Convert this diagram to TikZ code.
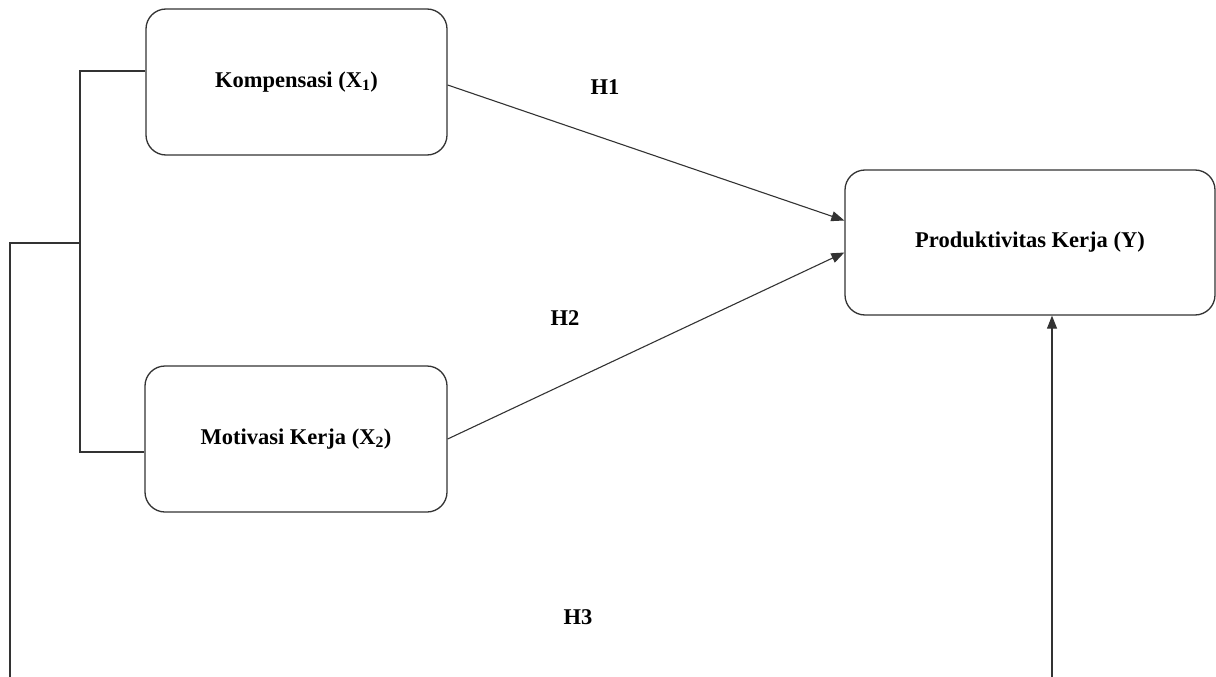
\documentclass[tikz,border=0pt]{standalone}
\usepackage{fontspec}
\setmainfont{Liberation Serif}
\usetikzlibrary{arrows.meta}
\definecolor{lc}{HTML}{333333}
\tikzset{
  var/.style={draw=lc, line width=1.3pt, rounded corners=20pt, fill=white,
    font=\fontsize{22.5}{27}\selectfont\bfseries, align=center, inner sep=0pt},
  conn/.style={draw=lc, line width=1.1pt},
  arr/.style={conn, -{Triangle[length=13pt,width=10pt]}},
  hyp/.style={font=\fontsize{22.5}{27}\selectfont\bfseries, inner sep=0pt}
}
\begin{document}
\begin{tikzpicture}[x=1pt,y=-1pt]
\useasboundingbox (0,0) rectangle (1216,677);
\node[var, minimum width=301pt, minimum height=146pt] (komp) at (296.5,82) {Kompensasi (X\textsubscript{1})};
\node[var, minimum width=302pt, minimum height=146pt] (motiv) at (296,439) {Motivasi Kerja (X\textsubscript{2})};
\node[var, minimum width=370pt, minimum height=145pt] (prod) at (1030,242.5) {Produktivitas Kerja (Y)};
\node[hyp] (h1) at (605,87) {H1};
\node[hyp] (h2) at (565,318) {H2};
\node[hyp] (h3) at (578,617) {H3};
\coordinate (b1) at (80,71);
\coordinate (b2) at (80,452);
\coordinate (m) at (80,243);
\coordinate (l) at (10,243);
\coordinate (lb) at (10,677);
\coordinate (rb) at (1052,677);
\draw[conn] (komp.west |- b1) -- (b1) -- (b2) -- (motiv.west |- b2);
\draw[conn] (m) -- (l) -- (lb);
\draw[arr] ([yshift=-3pt]komp.east) -- ([yshift=22pt]prod.west);
\draw[arr] (motiv.east) -- ([yshift=-10pt]prod.west);
\draw[arr] (rb) -- (rb |- prod.south);
\end{tikzpicture}
\end{document}
